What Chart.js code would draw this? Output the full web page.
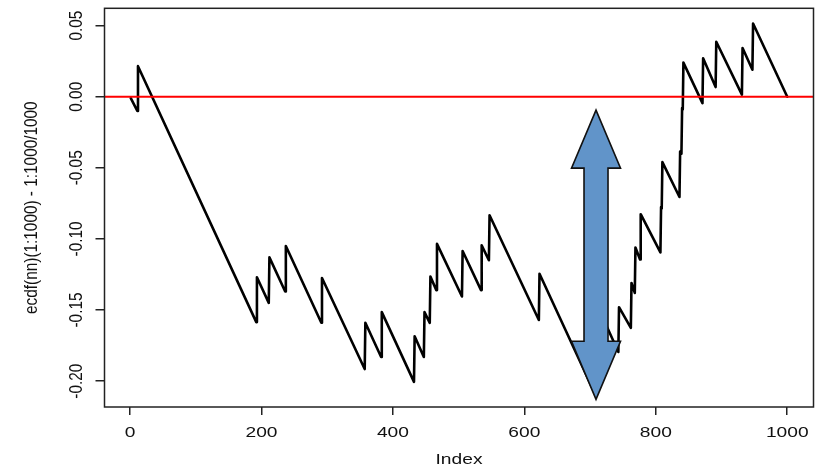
<!DOCTYPE html>
<html>
<head>
<meta charset="utf-8">
<script src="https://cdn.jsdelivr.net/npm/chart.js@4.4.1/dist/chart.umd.min.js"></script>
<style>
  html, body { margin: 0; padding: 0; background: #ffffff; }
  canvas { display: block; }
</style>
</head>
<body>
<canvas id="plot" width="819" height="466"></canvas>
<script>
// Corner points of ecdf(nn)(1:1000) - 1:1000/1000 (index, value)
const indexValues = [
  1, 11, 12, 192, 193, 211, 212, 236, 237, 291, 292, 357, 358, 382, 383,
  432, 433, 447, 448, 456, 457, 466, 467, 505, 506, 534, 535, 546, 547,
  622, 623, 706, 707, 716, 717, 743, 744, 762, 763, 768, 769, 776, 777,
  807, 808, 809, 810, 836, 837, 839, 840, 841, 842, 871, 872, 891, 892,
  931, 932, 947, 948, 1000
];
const diffValues = [
  -0.001, -0.010, 0.0215, -0.1585, -0.127, -0.145, -0.113, -0.137, -0.105,
  -0.159, -0.1275, -0.1915, -0.159, -0.183, -0.1515,
  -0.2005, -0.1685, -0.183, -0.1515, -0.159, -0.1265, -0.136, -0.1035,
  -0.1405, -0.1085, -0.136, -0.1045, -0.115, -0.0833,
  -0.157, -0.1245, -0.2075, -0.176, -0.185, -0.153, -0.1795, -0.148,
  -0.1625, -0.131, -0.138, -0.106, -0.1145, -0.0826,
  -0.1095, -0.0775, -0.0785, -0.046, -0.0705, -0.0385, -0.040, -0.008,
  -0.009, 0.024, -0.0045, 0.027, 0.0068, 0.0387,
  0.0015, 0.0343, 0.0190, 0.0515, 0
];

const xTickValues = [0, 200, 400, 600, 800, 1000];
const xTickLabels = ['0', '200', '400', '600', '800', '1000'];
const yTickValues = [-0.20, -0.15, -0.10, -0.05, 0.00, 0.05];
const yTickLabels = ['-0.20', '-0.15', '-0.10', '-0.05', '0.00', '0.05'];
const xTitle = 'Index';
const yTitle = 'ecdf(nn)(1:1000) - 1:1000/1000';
const referenceLevel = 0;

// Axis limits (data range widened by 4% on each side)
const xMin = -38.96, xMax = 1039.96;
const yMin = -0.2182, yMax = 0.0622;

// Double-headed marker: centre index and tip values
const arrowIndex = 709;
const arrowTopValue = -0.0094;
const arrowBottomValue = -0.2128;

// Text styling: glyphs are drawn wider than tall
const FONT = '16px "Liberation Sans", Arial, Helvetica, sans-serif';
const SX = 1.2, SY = 0.96;

function hText(ctx, s, x, y) {
  ctx.save();
  ctx.translate(x, y);
  ctx.scale(SX, SY);
  ctx.textAlign = 'center';
  ctx.textBaseline = 'alphabetic';
  ctx.fillText(s, 0, 0);
  ctx.restore();
}
function vText(ctx, s, x, y) {
  ctx.save();
  ctx.translate(x, y);
  ctx.rotate(-Math.PI / 2);
  ctx.scale(SY, SX);
  ctx.textAlign = 'center';
  ctx.textBaseline = 'alphabetic';
  ctx.fillText(s, 0, 0);
  ctx.restore();
}

const frameAndLabels = {
  id: 'frameAndLabels',
  afterDatasetsDraw(chart) {
    const { ctx, chartArea: a, scales: { x, y } } = chart;
    ctx.save();
    // plot box
    ctx.strokeStyle = '#222';
    ctx.lineWidth = 1.5;
    ctx.strokeRect(a.left, a.top, a.right - a.left, a.bottom - a.top);

    // tick labels and titles
    ctx.fillStyle = '#111';
    ctx.font = FONT;
    xTickValues.forEach((v, i) => hText(ctx, xTickLabels[i], x.getPixelForValue(v), 437));
    yTickValues.forEach((v, i) => vText(ctx, yTickLabels[i], 82, y.getPixelForValue(v)));
    hText(ctx, xTitle, (a.left + a.right) / 2, 464);
    vText(ctx, yTitle, 37, (a.top + a.bottom) / 2);

    // blue double arrow
    const cx = x.getPixelForValue(arrowIndex);
    const yt = y.getPixelForValue(arrowTopValue);
    const yb = y.getPixelForValue(arrowBottomValue);
    const hw = 24.5, sw = 12, hl = 58;
    ctx.beginPath();
    ctx.moveTo(cx, yt);
    ctx.lineTo(cx + hw, yt + hl);
    ctx.lineTo(cx + sw, yt + hl);
    ctx.lineTo(cx + sw, yb - hl);
    ctx.lineTo(cx + hw, yb - hl);
    ctx.lineTo(cx, yb);
    ctx.lineTo(cx - hw, yb - hl);
    ctx.lineTo(cx - sw, yb - hl);
    ctx.lineTo(cx - sw, yt + hl);
    ctx.lineTo(cx - hw, yt + hl);
    ctx.closePath();
    ctx.fillStyle = '#6194c9';
    ctx.fill();
    ctx.lineJoin = 'miter';
    ctx.strokeStyle = '#111';
    ctx.lineWidth = 1.6;
    ctx.stroke();
    ctx.restore();
  }
};

new Chart(document.getElementById('plot'), {
  type: 'line',
  data: {
    datasets: [
      {
        data: [{ x: xMin, y: referenceLevel }, { x: xMax, y: referenceLevel }],
        borderColor: '#ff0000',
        borderWidth: 2,
        pointRadius: 0,
        tension: 0
      },
      {
        data: indexValues.map((v, i) => ({ x: v, y: diffValues[i] })),
        borderColor: '#000000',
        borderWidth: 2.6,
        borderJoinStyle: 'round',
        borderCapStyle: 'round',
        pointRadius: 0,
        tension: 0
      }
    ]
  },
  options: {
    responsive: false,
    animation: false,
    devicePixelRatio: 1,
    layout: { padding: { top: 8.3, right: 5.5, left: 0, bottom: 0 } },
    plugins: { legend: { display: false }, tooltip: { enabled: false } },
    scales: {
      x: {
        type: 'linear',
        min: xMin,
        max: xMax,
        border: { display: false },
        grid: { drawOnChartArea: false, drawTicks: true, tickLength: 8, color: '#222', lineWidth: 1.5 },
        ticks: { display: false },
        afterBuildTicks(s) { s.ticks = xTickValues.map(v => ({ value: v })); },
        afterFit(s) { s.height = 59; }
      },
      y: {
        type: 'linear',
        min: yMin,
        max: yMax,
        border: { display: false },
        grid: { drawOnChartArea: false, drawTicks: true, tickLength: 9, color: '#222', lineWidth: 1.5 },
        ticks: { display: false },
        afterBuildTicks(s) { s.ticks = yTickValues.map(v => ({ value: v })); },
        afterFit(s) { s.width = 104.5; }
      }
    }
  },
  plugins: [frameAndLabels]
});
</script>
</body>
</html>
